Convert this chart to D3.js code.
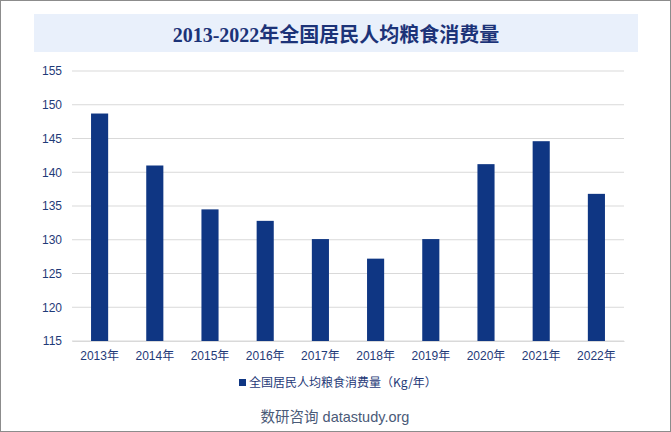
<!DOCTYPE html>
<html><head><meta charset="utf-8">
<script src="https://cdn.jsdelivr.net/npm/d3@7"></script>
<style>html,body{margin:0;padding:0;background:#fff;}svg{display:block;}</style>
</head><body>
<script>
const years = ["2013年","2014年","2015年","2016年","2017年","2018年","2019年","2020年","2021年","2022年"];
const values = [148.7,141.0,134.5,132.8,130.1,127.2,130.1,141.2,144.6,136.8];
const yTicks = [115,120,125,130,135,140,145,150,155];
const title = "2013-2022年全国居民人均粮食消费量";
const seriesName = "全国居民人均粮食消费量（Kg/年）";
const source = "数研咨询 datastudy.org";

const W = 671, H = 432;
const svg = d3.select("body").append("svg").attr("width", W).attr("height", H);
svg.append("rect").attr("x",0.5).attr("y",0.5).attr("width",W-1).attr("height",H-1)
  .attr("fill","#fff").attr("stroke","#8c8c8c");
svg.append("rect").attr("x",34).attr("y",14).attr("width",604).attr("height",38).attr("fill","#e9f0fb");
svg.append("text").attr("x",336).attr("y",42).attr("text-anchor","middle")
  .attr("font-family","'Liberation Serif','Noto Sans CJK SC',serif").attr("font-weight","bold")
  .attr("font-size",20).attr("fill","#1c3378").text(title);

const x = d3.scaleBand().domain(years).range([72,624]).paddingInner(0.69).paddingOuter(0.345);
const y = d3.scaleLinear().domain([115,155]).range([341,71]);

const grid = svg.append("g");
grid.selectAll("line").data(yTicks).join("line")
  .attr("x1",72).attr("x2",624).attr("y1",d=>y(d)).attr("y2",d=>y(d))
  .attr("stroke","#d9d9d9").attr("stroke-width",1);

const yAxis = svg.append("g").attr("transform","translate(72,0)")
  .call(d3.axisLeft(y).tickValues(yTicks).tickSize(0).tickPadding(10));
yAxis.select(".domain").remove();
yAxis.selectAll("text").attr("font-family","'Liberation Sans',Arial,sans-serif").attr("font-size",12).attr("fill","#1f3a78");

svg.append("g").selectAll("rect").data(values).join("rect")
  .attr("x",(d,i)=>x(years[i])).attr("width",x.bandwidth())
  .attr("y",d=>y(d)).attr("height",d=>y(115)-y(d)).attr("fill","#0f3683");

const xAxis = svg.append("g").attr("transform","translate(0,341)")
  .call(d3.axisBottom(x).tickSize(0).tickPadding(10));
xAxis.select(".domain").attr("stroke","#d9d9d9");
xAxis.selectAll("text").attr("font-family","'Liberation Sans','Noto Sans CJK SC',sans-serif").attr("font-size",12).attr("fill","#1f3a78");

svg.append("rect").attr("x",239).attr("y",379).attr("width",7).attr("height",7).attr("fill","#0f3683");
svg.append("text").attr("x",249).attr("y",387).attr("font-family","'Noto Sans CJK SC',sans-serif")
  .attr("font-size",12).attr("fill","#1f3a78").text(seriesName);

svg.append("text").attr("x",335).attr("y",422).attr("text-anchor","middle")
  .attr("font-family","'Liberation Sans','Noto Sans CJK SC',sans-serif").attr("font-size",14.5)
  .attr("fill","#4a5a78").text(source);
</script>
</body></html>
